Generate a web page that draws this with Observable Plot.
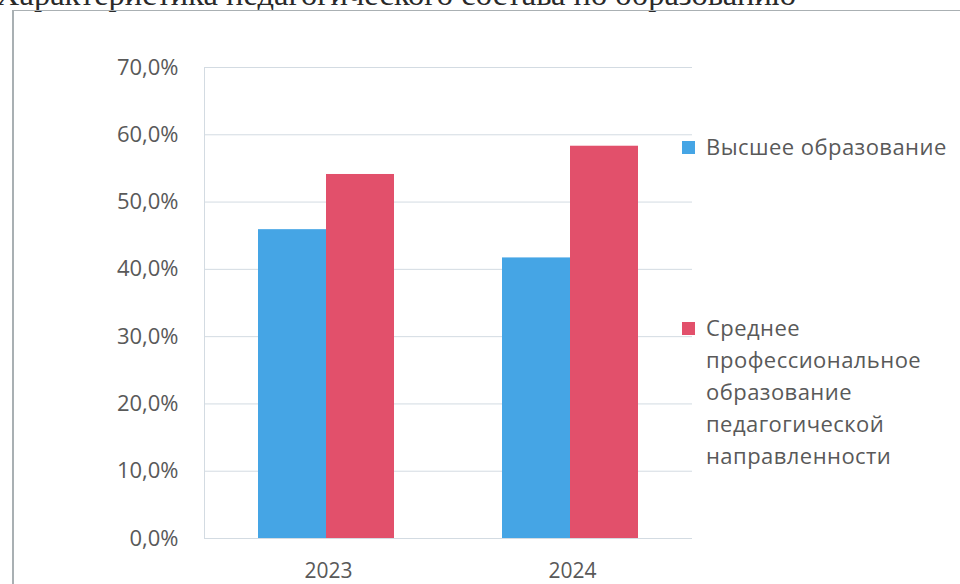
<!DOCTYPE html>
<html>
<head>
<meta charset="utf-8">
<script src="https://cdn.jsdelivr.net/npm/d3@7"></script>
<script src="https://cdn.jsdelivr.net/npm/@observablehq/plot@0.6"></script>
<style>
  html, body { margin: 0; padding: 0; background: #ffffff; }
  #wrap { position: relative; width: 960px; height: 584px; overflow: hidden; background: #fff; }
  #title { position: absolute; left: -4px; top: -24px; white-space: nowrap;
           font-family: "Liberation Serif", "DejaVu Serif", serif; font-size: 32.5px; color: #2a2a2a; }
  #border { position: absolute; left: 12px; top: 10px; width: 1000px; height: 700px;
            border-left: 2px solid #a9b0b3; border-top: 1.5px solid #aab0b3; }
  #chart { position: absolute; left: 0; top: 0; }
  #legend { position: absolute; left: 682px; top: 134px; font-family: "Open Sans", Lato, sans-serif;
            font-size: 22px; letter-spacing: 0.45px; color: #595959; }
  .item { position: absolute; left: 0; display: flex; align-items: flex-start; white-space: nowrap; }
  .sw { width: 13px; height: 13px; margin-top: 7px; margin-right: 11px; flex: none; }
  .lbl { line-height: 32px; margin-top: -4px; }
  .yax text { font-size: 22px; }
</style>
</head>
<body>
<div id="wrap">
  <div id="title">Характеристика педагогического состава по образованию</div>
  <div id="border"></div>
  <div id="chart"></div>
  <div id="legend"></div>
</div>
<script>
const years = ["2023", "2024"];
const seriesNames = ["Высшее образование", "Среднее профессиональное образование педагогической направленности"];
const legendLines = [["Высшее образование"], ["Среднее", "профессиональное", "образование", "педагогической", "направленности"]];
const higher = [45.9, 41.7];
const secondary = [54.1, 58.3];
const yTicks = [0, 10, 20, 30, 40, 50, 60, 70];
const colors = ["#45a5e5", "#e2506b"];

const data = years.flatMap((y, i) => [
  {year: y, series: seriesNames[0], value: higher[i]},
  {year: y, series: seriesNames[1], value: secondary[i]}
]);

const chart = Plot.plot({
  width: 700,
  height: 584,
  marginLeft: 203,
  marginRight: 8,
  marginTop: 67,
  marginBottom: 46,
  style: {fontFamily: "'Open Sans', Lato, sans-serif", fontSize: "21px", color: "#595959", background: "transparent", overflow: "visible"},
  fx: {domain: years, padding: 0, label: null},
  x: {domain: seriesNames, paddingInner: 0, paddingOuter: 0.78, axis: null},
  y: {domain: [0, 70], label: null},
  color: {domain: seriesNames, range: colors},
  marks: [
    Plot.ruleY(yTicks, {stroke: "#d3dbe2", strokeWidth: 1}),
    Plot.frame({anchor: "left", facetAnchor: "left", stroke: "#d3dbe2"}),
    Plot.barY(data, {fx: "year", x: "series", y: "value", fill: "series"}),
    Plot.axisY({ticks: yTicks, tickSize: 0, tickPadding: 26, tickFormat: d => d.toFixed(1).replace(".", ",") + "%", label: null, className: "yax"}),
    Plot.axisFx({anchor: "bottom", tickSize: 0, tickPadding: 25, dx: 2, label: null})
  ]
});
document.getElementById("chart").appendChild(chart);

const legend = document.getElementById("legend");
const tops = [0, 181];
legendLines.forEach((lines, i) => {
  const item = document.createElement("div");
  item.className = "item";
  item.style.top = tops[i] + "px";
  const sw = document.createElement("div");
  sw.className = "sw";
  sw.style.background = colors[i];
  const lbl = document.createElement("div");
  lbl.className = "lbl";
  lbl.innerHTML = lines.join("<br>");
  item.appendChild(sw);
  item.appendChild(lbl);
  legend.appendChild(item);
});
</script>
</body>
</html>
